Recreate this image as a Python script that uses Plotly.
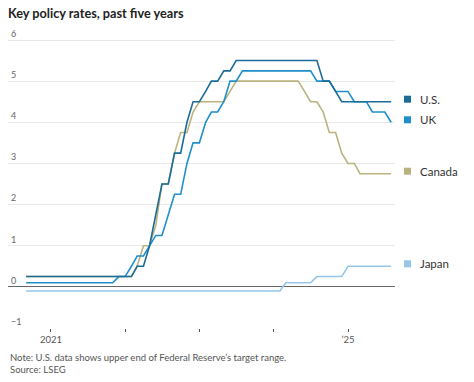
import plotly.graph_objects as go
import pandas as pd

# Monthly points, Sep 2020 - Aug 2025 (value at end of month, plotted at month start)
dates = pd.date_range("2020-09-01", "2025-08-01", freq="MS")

us = ([0.25] * 18 +                      # Sep 2020 - Feb 2022
      [0.5, 0.5, 1.0, 1.75, 2.5, 2.5, 3.25, 3.25, 4.0, 4.5,   # Mar - Dec 2022
       4.5, 4.75, 5.0, 5.0, 5.25, 5.25, 5.5, 5.5, 5.5, 5.5, 5.5, 5.5,  # 2023
       5.5, 5.5, 5.5, 5.5, 5.5, 5.5, 5.5, 5.5, 5.0, 5.0, 4.75, 4.5,     # 2024
       4.5, 4.5, 4.5, 4.5, 4.5, 4.5, 4.5, 4.5])                         # 2025
uk = ([0.1] * 15 +                       # Sep 2020 - Nov 2021
      [0.25, 0.25,                       # Dec 2021, Jan 2022
       0.5, 0.75, 0.75, 1.0, 1.25, 1.25, 1.75, 2.25, 2.25, 3.0, 3.5,   # Feb - Dec 2022
       3.5, 4.0, 4.25, 4.25, 4.5, 5.0, 5.0, 5.25, 5.25, 5.25, 5.25, 5.25,  # 2023
       5.25, 5.25, 5.25, 5.25, 5.25, 5.25, 5.25, 5.0, 5.0, 5.0, 4.75, 4.75,  # 2024
       4.75, 4.5, 4.5, 4.5, 4.25, 4.25, 4.25, 4.0])                          # 2025
canada = ([0.25] * 18 +
          [0.5, 1.0, 1.0, 1.5, 2.5, 2.5, 3.25, 3.75, 3.75, 4.25,          # Mar - Dec 2022
           4.5, 4.5, 4.5, 4.5, 4.5, 4.75, 5.0, 5.0, 5.0, 5.0, 5.0, 5.0,   # 2023
           5.0, 5.0, 5.0, 5.0, 5.0, 4.75, 4.5, 4.5, 4.25, 3.75, 3.75, 3.25,  # 2024
           3.0, 3.0, 2.75, 2.75, 2.75, 2.75, 2.75, 2.75])                    # 2025
japan = ([-0.1] * 42 +                   # Sep 2020 - Feb 2024
         [0.1, 0.1, 0.1, 0.1, 0.1,       # Mar - Jul 2024
          0.25, 0.25, 0.25, 0.25, 0.25,  # Aug - Dec 2024
          0.5, 0.5, 0.5, 0.5, 0.5, 0.5, 0.5, 0.5])  # 2025

series_names = ["Japan", "Canada", "UK", "U.S."]
series_values = [japan, canada, uk, us]
series_colors = ["#95c6e8", "#bab37f", "#1f8ecb", "#1b6c98"]

year_ticks = ["2021-01-01", "2022-01-01", "2023-01-01", "2024-01-01", "2025-01-01"]
year_labels = ["2021", "", "", "", "\u201925"]
y_ticks = [-1, 0, 1, 2, 3, 4, 5, 6]

FONT = "Lato"
fig = go.Figure()
for name, vals, col in zip(series_names, series_values, series_colors):
    fig.add_trace(go.Scatter(x=dates, y=vals, mode="lines", name=name,
                             line=dict(color=col, width=1.6), showlegend=False,
                             hoverinfo="skip"))

# end labels (legend-like)
for name, vals, col in zip(series_names, series_values, series_colors):
    v = vals[-1]
    fig.add_shape(type="rect", xref="paper", yref="y",
                  x0=(404 - 8) / 387, x1=(411 - 8) / 387,
                  ysizemode="pixel", yanchor=v, y0=-1, y1=6,
                  fillcolor=col, line_width=0)
    fig.add_annotation(xref="paper", yref="y", x=(418 - 8) / 387, y=v,
                       yshift=2.5, text=name, showarrow=False, xanchor="left",
                       yanchor="middle",
                       font=dict(family=FONT, size=11.5, color="#333333"))

y_top_val = 6.5
px_per_unit = (328 - 40) / 7.0
plot_top = round(40 - (y_top_val - 6) * px_per_unit)
plot_bottom = 328
fig.update_layout(
    width=474, height=382, autosize=False,
    margin=dict(l=8, r=79, t=plot_top, b=382 - plot_bottom, autoexpand=False),
    paper_bgcolor="white", plot_bgcolor="white",
    title=dict(text="<b>Key policy rates, past five years</b>", x=8 / 474, xanchor="left",
               y=1 - 14 / 382, yanchor="middle", automargin=False,
               font=dict(family=FONT, size=12.7, color="#222222")),
    xaxis=dict(type="date", range=["2020-06-04", "2025-08-20"], automargin=False,
               tickvals=year_ticks, ticktext=year_labels,
               ticks="outside", ticklen=3, tickcolor="#555555", tickwidth=1,
               showgrid=False, zeroline=False, showline=False,
               tickfont=dict(family=FONT, size=9.5, color="#555555")),
    yaxis=dict(range=[-1, 6 + (40 - plot_top) / px_per_unit], tickvals=y_ticks,
               ticklabelposition="inside top", automargin=False,
               showgrid=True, gridcolor="#e8e8e8", gridwidth=1,
               zeroline=True, zerolinecolor="#666666", zerolinewidth=1,
               showline=False, ticks="",
               tickfont=dict(family=FONT, size=9, color="#666666")),
)
plot_h = plot_bottom - plot_top
fig.add_annotation(xref="paper", yref="paper", x=0, y=-(357 - plot_bottom) / plot_h,
                   text="Note: U.S. data shows upper end of Federal Reserve\u2019s target range.",
                   showarrow=False, xanchor="left", yanchor="middle",
                   font=dict(family=FONT, size=9.5, color="#555555"))
fig.add_annotation(xref="paper", yref="paper", x=0, y=-(369 - plot_bottom) / plot_h,
                   text="Source: LSEG", showarrow=False, xanchor="left", yanchor="middle",
                   font=dict(family=FONT, size=9.5, color="#555555"))

fig.write_html("out.html", config={"displayModeBar": False},
               post_script="document.body.style.margin='0';document.body.style.overflow='hidden';")
